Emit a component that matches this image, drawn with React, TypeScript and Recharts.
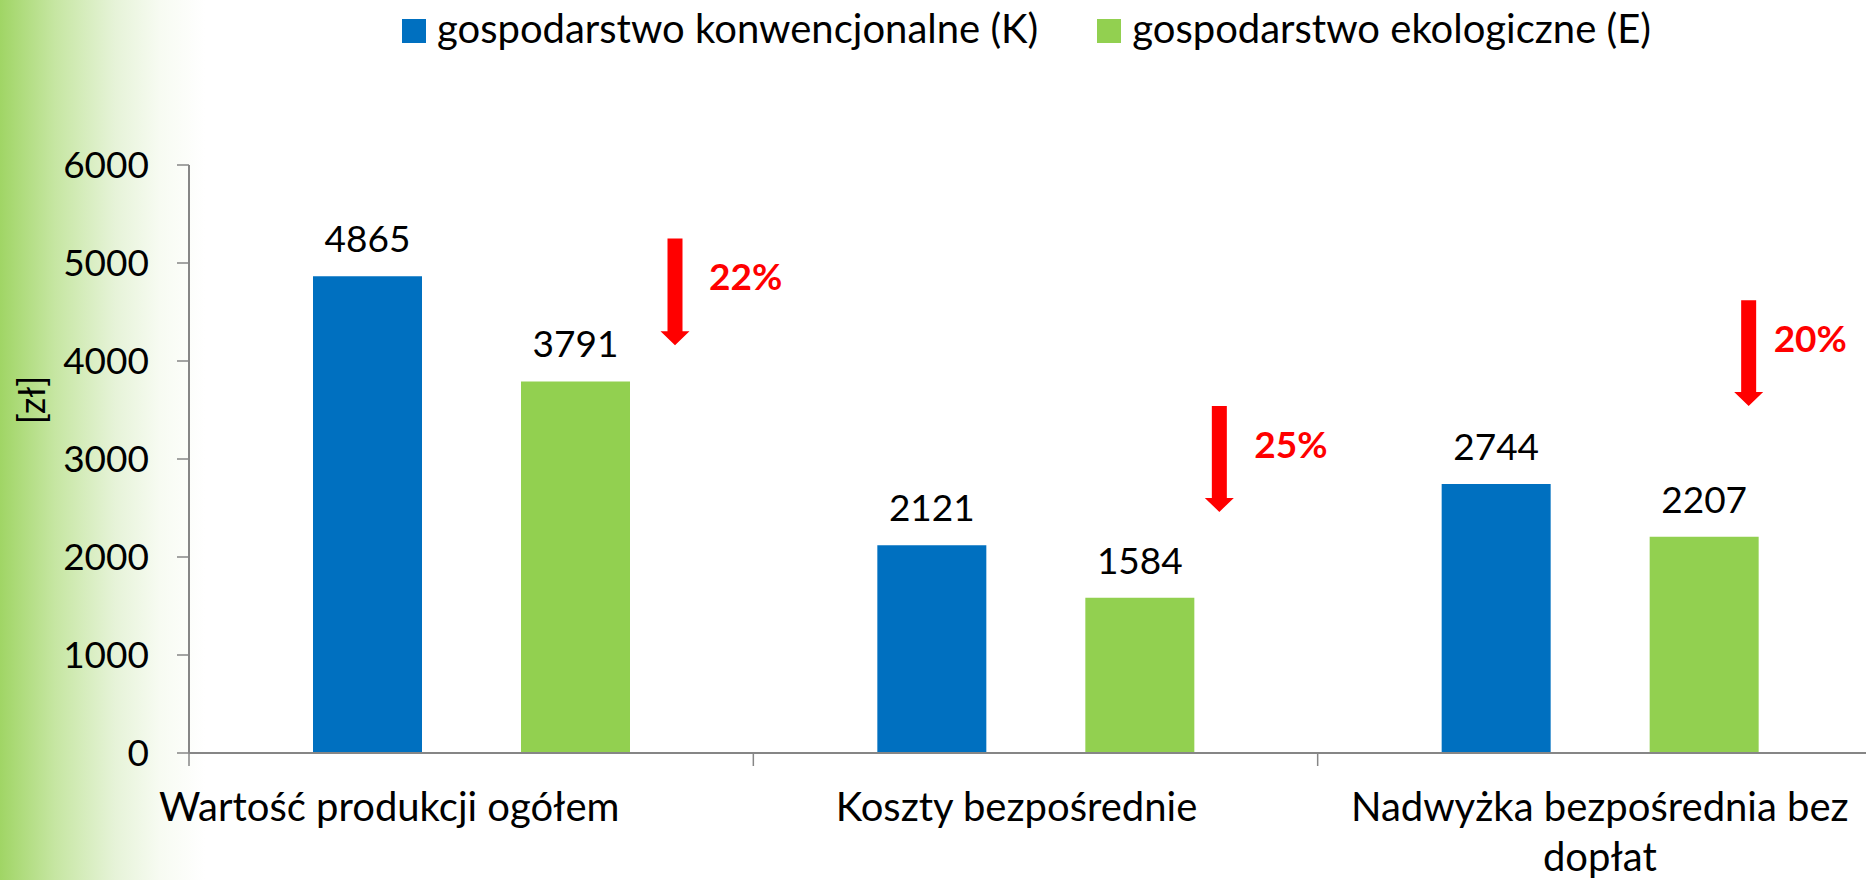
import React from "react";
import { BarChart, Bar, XAxis, YAxis, Legend, LabelList, Label } from "recharts";

const categories = [
  "Wartość produkcji ogółem",
  "Koszty bezpośrednie",
  "Nadwyżka bezpośrednia bez dopłat",
];
const conventional = [4865, 2121, 2744];
const organic = [3791, 1584, 2207];
const dropLabels = ["22%", "25%", "20%"];
const yTicks = [0, 1000, 2000, 3000, 4000, 5000, 6000];
const seriesNames = ["gospodarstwo konwencjonalne (K)", "gospodarstwo ekologiczne (E)"];

const data = categories.map((name, i) => ({
  name,
  k: conventional[i],
  e: organic[i],
}));

// red arrows: dx from the green bar's right edge (px), top/tip in axis units
const arrows = [
  { dx: 45, from: 5250, to: 4160, textDx: 34 },
  { dx: 25, from: 3540, to: 2460, textDx: 35 },
  { dx: -10, from: 4620, to: 3540, textDx: 25 },
];
// category labels are not quite centred in the original
const labelShift = [-82, -19, 0];

const BLUE = "#0070c0";
const GREEN = "#92d050";
const AXIS = "#868686";
const FONT = "Lato, 'Open Sans', sans-serif";

let ctx: CanvasRenderingContext2D | null = null;
function wrapWords(str: string, maxWidth: number, font: string) {
  if (!ctx) ctx = document.createElement("canvas").getContext("2d");
  if (!ctx) return [str];
  ctx.font = font;
  const lines: string[] = [];
  let cur = "";
  for (const w of str.split(" ")) {
    const next = cur ? cur + " " + w : w;
    if (cur && ctx.measureText(next).width > maxWidth) {
      lines.push(cur);
      cur = w;
    } else {
      cur = next;
    }
  }
  if (cur) lines.push(cur);
  return lines;
}

function DropArrow(props: any) {
  const vb = props.viewBox || props;
  const index = props.index ?? 0;
  const bx = Number(vb.x);
  const by = Number(vb.y);
  const bw = Number(vb.width);
  const bh = Number(vb.height);
  const value = Number(props.value ?? organic[index]);
  const a = arrows[index];
  if (!a || !value) return null;
  const ppu = bh / value;
  const base = by + bh;
  const top = base - a.from * ppu;
  const tip = base - a.to * ppu;
  const cx = bx + bw + a.dx;
  const pts = [
    [cx - 7.5, top],
    [cx + 7.5, top],
    [cx + 7.5, tip - 14],
    [cx + 14.5, tip - 14],
    [cx, tip],
    [cx - 14.5, tip - 14],
    [cx - 7.5, tip - 14],
  ]
    .map((p) => p.join(","))
    .join(" ");
  return (
    <g>
      <polygon points={pts} fill="#ff0000" />
      <text
        x={cx + a.textDx}
        y={top + 37}
        dominantBaseline="central"
        fill="#ff0000"
        fontSize={37}
        fontWeight={700}
      >
        {dropLabels[index]}
      </text>
    </g>
  );
}

const TICK_MARGIN = 40;

function CategoryTick({ x, y, payload, index }: any) {
  const half = payload?.offset ?? 282;
  const axisY = y - TICK_MARGIN;
  const i = index ?? 0;
  const lines = wrapWords(String(payload.value), 540, `40px ${FONT}`);
  const lx = x + (labelShift[i] || 0);
  return (
    <g>
      <line x1={x - half} x2={x - half} y1={axisY} y2={axisY + 13} stroke={AXIS} strokeWidth={1.5} />
      {i === categories.length - 1 && (
        <line x1={x + half} x2={x + half} y1={axisY} y2={axisY + 13} stroke={AXIS} strokeWidth={1.5} />
      )}
      <text x={lx} y={y + 28} textAnchor="middle" fontSize={40} fill="#000">
        {lines.map((ln, k) => (
          <tspan key={k} x={lx} dy={k === 0 ? 0 : 50}>
            {ln}
          </tspan>
        ))}
      </text>
    </g>
  );
}

function LegendContent({ payload }: any) {
  const items = [...(payload || [])].sort(
    (a: any, b: any) => seriesNames.indexOf(a.value) - seriesNames.indexOf(b.value)
  );
  return (
    <div style={{ display: "flex", alignItems: "baseline", fontSize: 40, lineHeight: "48px", color: "#000" }}>
      {items.map((p: any, i: number) => (
        <div key={i} style={{ display: "flex", alignItems: "baseline", marginRight: 59 }}>
          <div style={{ width: 24, height: 24, background: p.color, marginRight: 11 }} />
          <span style={{ whiteSpace: "nowrap" }}>{p.value}</span>
        </div>
      ))}
    </div>
  );
}

export default function App() {
  return (
    <div
      style={{
        position: "fixed",
        left: 0,
        top: 0,
        width: 1866,
        height: 880,
        overflow: "hidden",
        fontFamily: FONT,
        background:
          "linear-gradient(to right, #a0d565 0px, #c6e6a2 55px, #e6f3d8 115px, #f7fbf2 160px, #ffffff 205px)",
      }}
    >
      <BarChart
        width={1900}
        height={880}
        data={data}
        margin={{ top: 165, right: 18, bottom: 0, left: 0 }}
        barSize={109}
        barGap={99}
      >
        <XAxis
          xAxisId="cat"
          dataKey="name"
          height={127}
          axisLine={{ stroke: AXIS, strokeWidth: 2 }}
          tickLine={false}
          tickSize={0}
          tickMargin={TICK_MARGIN}
          interval={0}
          tick={<CategoryTick />}
        />
        <YAxis
          domain={[0, 6000]}
          ticks={yTicks}
          interval={0}
          width={189}
          tickSize={12}
          tickMargin={28}
          axisLine={{ stroke: AXIS, strokeWidth: 2 }}
          tickLine={{ stroke: AXIS, strokeWidth: 1.5 }}
          tick={{ fill: "#000", fontSize: 37 }}
        >
          <Label
            content={(p: any) => {
              const vb = p.viewBox || { x: 0, y: 165 };
              const cx = vb.x + 31;
              const cy = vb.y + 235;
              return (
                <text
                  x={cx}
                  y={cy}
                  transform={`rotate(-90 ${cx} ${cy})`}
                  textAnchor="middle"
                  dominantBaseline="central"
                  fontSize={36}
                  fill="#000"
                >
                  [zł]
                </text>
              );
            }}
          />
        </YAxis>
        <Legend
          verticalAlign="middle"
          align="center"
          wrapperStyle={{ top: 4, left: 402, width: 1400 }}
          content={<LegendContent />}
        />
        <Bar xAxisId="cat" dataKey="k" name={seriesNames[0]} fill={BLUE} isAnimationActive={false}>
          <LabelList dataKey="k" position="top" offset={24} fill="#000" fontSize={37} />
        </Bar>
        <Bar xAxisId="cat" dataKey="e" name={seriesNames[1]} fill={GREEN} isAnimationActive={false}>
          <LabelList dataKey="e" position="top" offset={24} fill="#000" fontSize={37} />
          <LabelList dataKey="e" content={<DropArrow />} />
        </Bar>
      </BarChart>
    </div>
  );
}
